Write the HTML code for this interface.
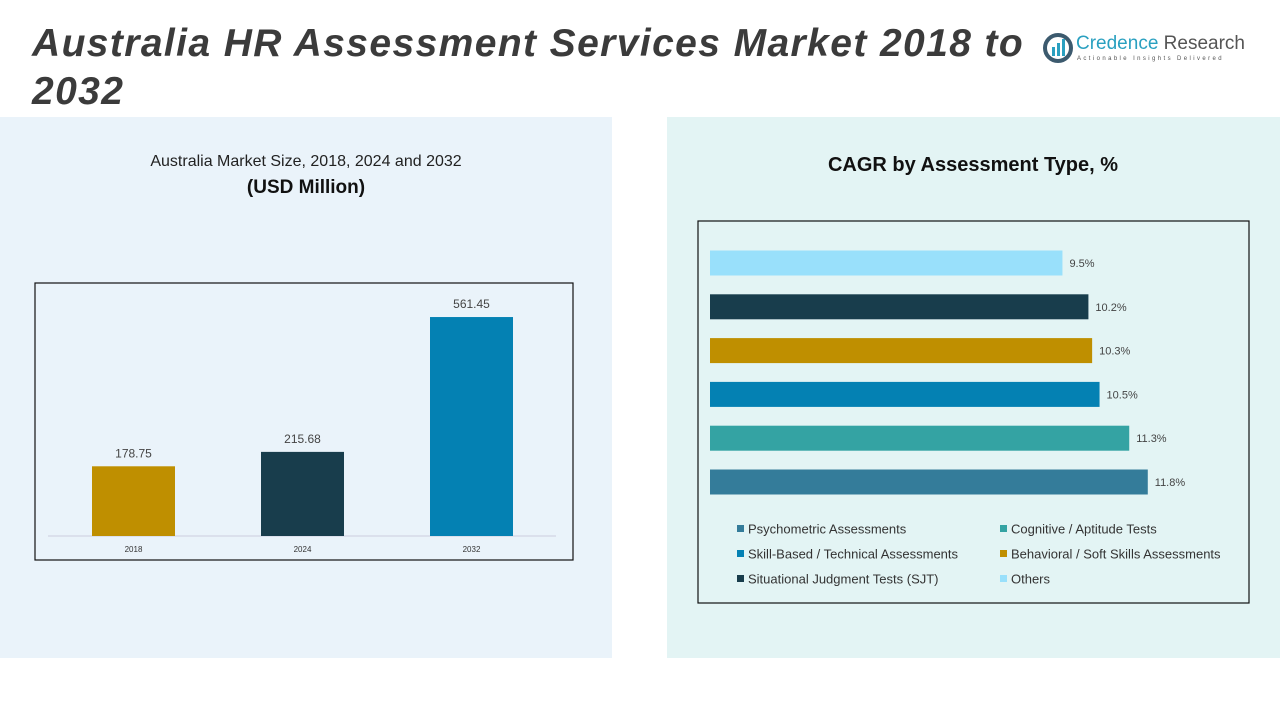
<!DOCTYPE html>
<html><head><meta charset="utf-8"><style>
body{margin:0;width:1280px;height:720px;background:#fff;position:relative;overflow:hidden;font-family:"Liberation Sans",sans-serif}
.abs{position:absolute}
</style></head><body>
<div class="abs" style="left:32px;top:20px;width:1010px;font-size:39px;line-height:48px;font-weight:bold;font-style:italic;color:#3b3b3b;letter-spacing:1.4px">Australia HR Assessment Services Market 2018 to 2032</div>
<div class="abs" style="left:1042px;top:32px;width:230px;height:40px">
<svg width="34" height="34" style="position:absolute;left:0;top:0"><circle cx="16" cy="16" r="13" fill="none" stroke="#3c5a6e" stroke-width="4"/><rect x="10" y="15" width="3" height="9" fill="#2aa0c0"/><rect x="15" y="11" width="3" height="13" fill="#2aa0c0"/><rect x="20" y="7" width="3" height="17" fill="#2aa0c0"/></svg>
<div style="position:absolute;left:34px;top:1px;font-size:19px;color:#2aa0c0;white-space:nowrap">Credence <span style="color:#555">Research</span></div>
<div style="position:absolute;left:35px;top:24px;font-size:6px;letter-spacing:2.4px;color:#555;white-space:nowrap">Actionable Insights Delivered</div>
</div>
<div class="abs" style="left:0;top:117px;width:612px;height:541px;background:#eaf3fa"></div>
<div class="abs" style="left:667px;top:117px;width:613px;height:541px;background:#e3f4f4"></div>
<div class="abs" style="left:0;top:153px;width:612px;text-align:center;font-size:16px;color:#222">Australia Market Size, 2018, 2024 and 2032</div>
<div class="abs" style="left:0;top:177px;width:612px;text-align:center;font-size:19px;font-weight:bold;color:#111">(USD Million)</div>
<div class="abs" style="left:713px;top:154px;width:520px;text-align:center;font-size:20px;font-weight:bold;color:#111">CAGR by Assessment Type, %</div>
<svg class="abs" style="left:0;top:0" width="1280" height="720" id="svg">
<rect x="35" y="283" width="538" height="277" fill="none" stroke="#111" stroke-width="1.2"/>
<line x1="48" y1="536" x2="556" y2="536" stroke="#ccd" stroke-width="1"/>
<rect x="698" y="221" width="551" height="382" fill="none" stroke="#111" stroke-width="1.2"/>
</svg>
<script>
const years=["2018","2024","2032"];
const sizes=[178.75,215.68,561.45];
const sizeColors=["#bf8f00","#183d4c","#0481b3"];
const types=["Others","Situational Judgment Tests (SJT)","Behavioral / Soft Skills Assessments","Skill-Based / Technical Assessments","Cognitive / Aptitude Tests","Psychometric Assessments"];
const cagr=[9.5,10.2,10.3,10.5,11.3,11.8];
const cagrColors=["#99e0fb","#183d4c","#bf8f00","#0481b3","#34a3a3","#347c9a"];
const legendOrder=[5,4,3,2,1,0];
const NS="http://www.w3.org/2000/svg",svg=document.getElementById('svg');
function mk(t,a,txt){const e=document.createElementNS(NS,t);for(const k in a)e.setAttribute(k,a[k]);if(txt!=null)e.textContent=txt;svg.appendChild(e);return e;}
const yS=v=>536-v*0.39, xC=i=>133.5+i*169;
years.forEach((y,i)=>{
 const b=mk('rect',{x:xC(i)-41.5,y:yS(sizes[i]),width:83,height:536-yS(sizes[i]),fill:sizeColors[i]});
 
 
 const l=mk('text',{x:xC(i),y:yS(sizes[i])-9,'text-anchor':'middle','font-size':12,fill:'#444'},sizes[i].toFixed(2));
 
 
 const t=mk('text',{x:xC(i),y:552,'text-anchor':'middle','font-size':8,fill:'#333'},y);
 
 
});
const xR=v=>710+v*37.1, yR=i=>263+i*43.8;
types.forEach((n,i)=>{
 const b=mk('rect',{x:710,y:yR(i)-12.5,width:xR(cagr[i])-710,height:25,fill:cagrColors[i]});
 
 
 const l=mk('text',{x:xR(cagr[i])+7,y:yR(i)+4,'font-size':11,fill:'#444'},cagr[i].toFixed(1)+'%');
 
 
});
legendOrder.forEach((k,j)=>{
 const x=737+(j%2)*263, y=529+Math.floor(j/2)*25;
 const m=mk('rect',{x:x,y:y-4,width:7,height:7,fill:cagrColors[k]});
 
 
 const t=mk('text',{x:x+11,y:y+4.5,'font-size':13,fill:'#333'},types[k]);
 
 
});
</script>
</body></html>
